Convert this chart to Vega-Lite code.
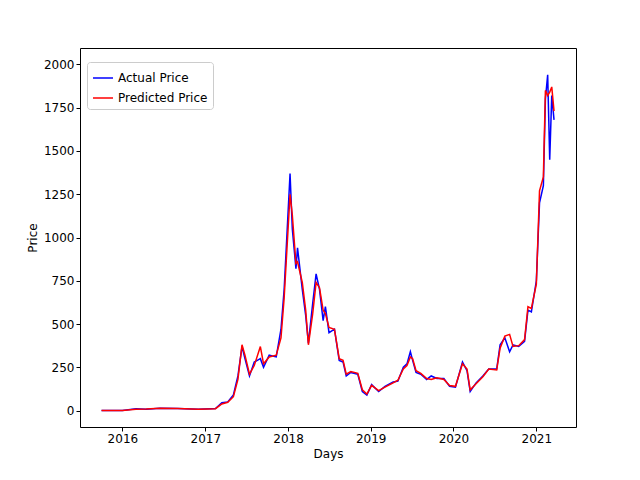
{
  "$schema": "https://vega.github.io/schema/vega-lite/v6.json",
  "autosize": "none",
  "padding": {"left": 80, "top": 48, "right": 64, "bottom": 53},
  "width": 496,
  "height": 379,
  "data": {"values": [
    {"date": "2015-10-01", "a": 0.7, "p": 1},
    {"date": "2016-01-01", "a": 1, "p": 1},
    {"date": "2016-03-01", "a": 10, "p": 8},
    {"date": "2016-04-15", "a": 8, "p": 9},
    {"date": "2016-06-15", "a": 14, "p": 13},
    {"date": "2016-09-01", "a": 12, "p": 12},
    {"date": "2016-12-01", "a": 8, "p": 8},
    {"date": "2017-02-15", "a": 12, "p": 11},
    {"date": "2017-03-15", "a": 45, "p": 38},
    {"date": "2017-04-10", "a": 50, "p": 48},
    {"date": "2017-05-05", "a": 90, "p": 80},
    {"date": "2017-05-25", "a": 200, "p": 180},
    {"date": "2017-06-12", "a": 370, "p": 380},
    {"date": "2017-06-25", "a": 300, "p": 320},
    {"date": "2017-07-15", "a": 200, "p": 210},
    {"date": "2017-08-05", "a": 280, "p": 260},
    {"date": "2017-09-01", "a": 300, "p": 370},
    {"date": "2017-09-15", "a": 250, "p": 270},
    {"date": "2017-10-10", "a": 320, "p": 310},
    {"date": "2017-11-10", "a": 310, "p": 320},
    {"date": "2017-12-01", "a": 470, "p": 420},
    {"date": "2017-12-15", "a": 700, "p": 650},
    {"date": "2018-01-10", "a": 1370, "p": 1250},
    {"date": "2018-01-20", "a": 1050, "p": 1130},
    {"date": "2018-02-05", "a": 820, "p": 850},
    {"date": "2018-02-12", "a": 940, "p": 860},
    {"date": "2018-03-05", "a": 700, "p": 740},
    {"date": "2018-03-20", "a": 550, "p": 580},
    {"date": "2018-04-01", "a": 390, "p": 380},
    {"date": "2018-04-20", "a": 620, "p": 560},
    {"date": "2018-05-05", "a": 790, "p": 740},
    {"date": "2018-05-20", "a": 700, "p": 710},
    {"date": "2018-06-05", "a": 520, "p": 580},
    {"date": "2018-06-15", "a": 600, "p": 560},
    {"date": "2018-07-01", "a": 450, "p": 480},
    {"date": "2018-07-25", "a": 470, "p": 470},
    {"date": "2018-08-15", "a": 290, "p": 300},
    {"date": "2018-09-01", "a": 280, "p": 290},
    {"date": "2018-09-15", "a": 200, "p": 210},
    {"date": "2018-10-05", "a": 220, "p": 225},
    {"date": "2018-11-05", "a": 210, "p": 215},
    {"date": "2018-11-25", "a": 110, "p": 120},
    {"date": "2018-12-15", "a": 90, "p": 95},
    {"date": "2019-01-05", "a": 150, "p": 145},
    {"date": "2019-02-05", "a": 110, "p": 115},
    {"date": "2019-03-05", "a": 140, "p": 135},
    {"date": "2019-04-10", "a": 165, "p": 160},
    {"date": "2019-05-01", "a": 170, "p": 175},
    {"date": "2019-05-25", "a": 250, "p": 240},
    {"date": "2019-06-10", "a": 270, "p": 260},
    {"date": "2019-06-25", "a": 340, "p": 310},
    {"date": "2019-07-05", "a": 290, "p": 300},
    {"date": "2019-07-20", "a": 220, "p": 230},
    {"date": "2019-08-10", "a": 210, "p": 215},
    {"date": "2019-09-05", "a": 180, "p": 185},
    {"date": "2019-09-25", "a": 200, "p": 180},
    {"date": "2019-10-20", "a": 185, "p": 190},
    {"date": "2019-11-20", "a": 185, "p": 180},
    {"date": "2019-12-15", "a": 140, "p": 145},
    {"date": "2020-01-10", "a": 135, "p": 140},
    {"date": "2020-02-10", "a": 280, "p": 270},
    {"date": "2020-03-01", "a": 230, "p": 240},
    {"date": "2020-03-15", "a": 110, "p": 120},
    {"date": "2020-04-10", "a": 160, "p": 155},
    {"date": "2020-05-10", "a": 200, "p": 195},
    {"date": "2020-06-05", "a": 240, "p": 240},
    {"date": "2020-07-10", "a": 240, "p": 235},
    {"date": "2020-07-25", "a": 380, "p": 360},
    {"date": "2020-08-15", "a": 420, "p": 430},
    {"date": "2020-09-05", "a": 340, "p": 440},
    {"date": "2020-09-20", "a": 380, "p": 370},
    {"date": "2020-10-15", "a": 370, "p": 375},
    {"date": "2020-11-10", "a": 400, "p": 410},
    {"date": "2020-11-25", "a": 580, "p": 600},
    {"date": "2020-12-10", "a": 570, "p": 590},
    {"date": "2021-01-01", "a": 750, "p": 730},
    {"date": "2021-01-15", "a": 1200, "p": 1270},
    {"date": "2021-02-01", "a": 1300, "p": 1350},
    {"date": "2021-02-10", "a": 1800, "p": 1850},
    {"date": "2021-02-20", "a": 1940, "p": 1820},
    {"date": "2021-03-01", "a": 1450, "p": 1840},
    {"date": "2021-03-10", "a": 1820, "p": 1870},
    {"date": "2021-03-20", "a": 1680, "p": 1730}
  ]},
  "transform": [
    {"fold": ["a", "p"], "as": ["key", "value"]},
    {"calculate": "datum.key === 'a' ? 'Actual Price' : 'Predicted Price'", "as": "series"}
  ],
  "mark": {"type": "line", "strokeWidth": 1.5},
  "encoding": {
    "x": {
      "field": "date", "type": "temporal", "title": "Days",
      "scale": {"domain": ["2015-06-28", "2021-06-25"]},
      "axis": {"format": "%Y", "values": [{"year": 2016}, {"year": 2017}, {"year": 2018}, {"year": 2019}, {"year": 2020}, {"year": 2021}]}
    },
    "y": {
      "field": "value", "type": "quantitative", "title": "Price",
      "scale": {"domain": [-95, 2095], "nice": false, "zero": false},
      "axis": {"format": "d", "values": [0, 250, 500, 750, 1000, 1250, 1500, 1750, 2000]}
    },
    "color": {
      "field": "series", "type": "nominal",
      "scale": {"domain": ["Actual Price", "Predicted Price"], "range": ["#0000ff", "#ff0000"]},
      "legend": {
        "title": null, "orient": "none", "legendX": 7, "legendY": 14,
        "symbolType": "stroke", "symbolSize": 400, "symbolStrokeWidth": 1.5,
        "labelFontSize": 12, "fillColor": "white", "strokeColor": "#cccccc",
        "padding": 5, "rowPadding": 3, "cornerRadius": 3
      }
    }
  },
  "config": {
    "font": "DejaVu Sans",
    "view": {"stroke": "black"},
    "axis": {
      "grid": false, "domain": false, "tickColor": "black", "tickSize": 4,
      "labelColor": "black", "labelFontSize": 12, "titleFontSize": 12,
      "titleFontWeight": "normal", "titleColor": "black"
    },
    "legend": {"labelColor": "black"}
  }
}
